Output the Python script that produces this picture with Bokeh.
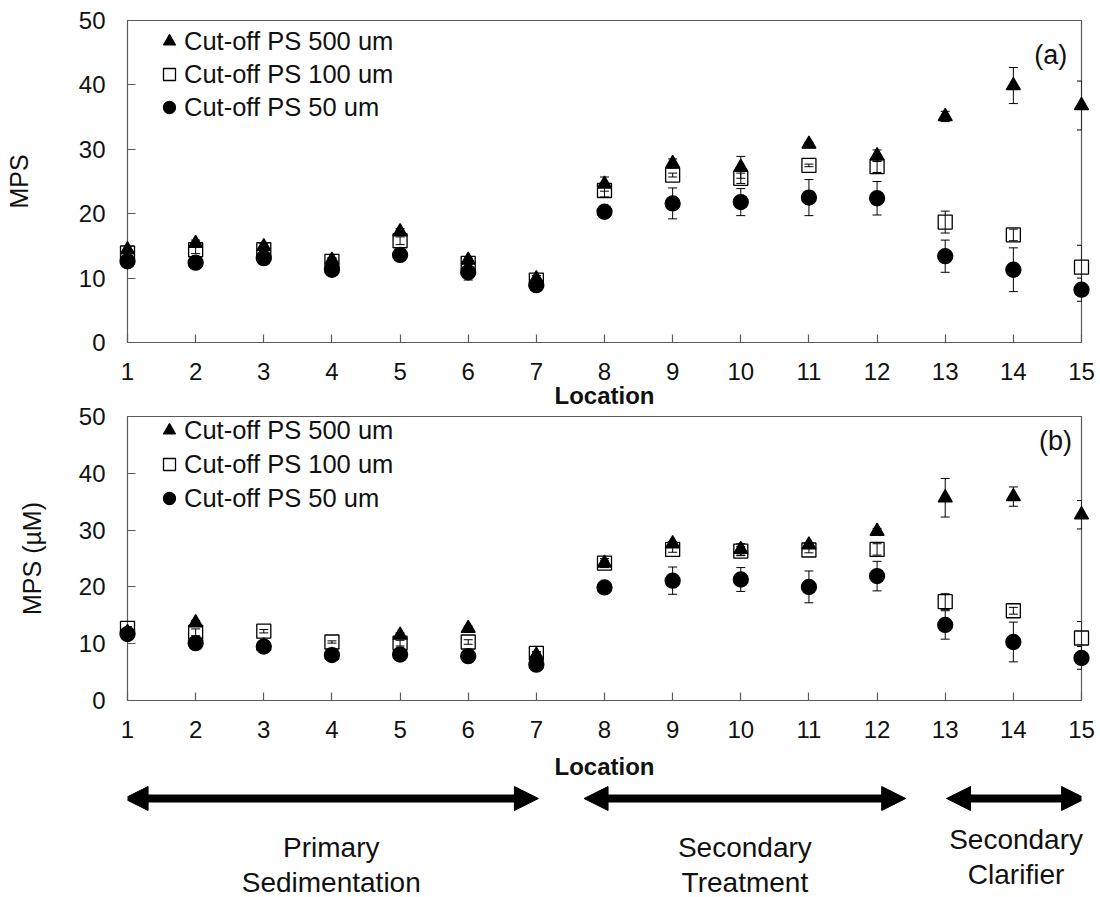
from bokeh.plotting import figure
from bokeh.models import (Range1d, FixedTicker, Whisker, TeeHead, ColumnDataSource, Legend,
                          LegendItem, Label, Arrow, NormalHead)
from bokeh.layouts import column
from bokeh.embed import file_html
from bokeh.resources import INLINE
from bokeh.core.properties import value

# ---------------- data ----------------
locations = list(range(1, 16))
x_ticks = list(range(1, 16))
y_ticks = [0, 10, 20, 30, 40, 50]
series_names = ["Cut-off PS 500 um", "Cut-off PS 100 um", "Cut-off PS 50 um"]

# panel (a)
a_500 = [14.4, 15.4, 14.9, 12.8, 17.2, 12.8, 9.9, 24.6, 27.8, 27.2, 30.8, 29.0, 35.1, 39.9, 36.8]
a_500_err = [0.5, 0.5, 0.5, 0.4, 0.5, 0.5, 0.5, 1.1, 0.7, 1.7, 0.3, 0.9, 0.8, 2.8, 3.8]
a_100 = [13.9, 14.4, 14.4, 12.6, 15.8, 12.3, 9.7, 23.6, 26.0, 25.5, 27.5, 27.3, 18.7, 16.7, 11.7]
a_100_err = [0.5, 0.6, 0.6, 0.4, 0.6, 0.5, 0.4, 1.0, 0.3, 0.8, 0.2, 0.9, 1.7, 0.9, 3.4]
a_50 = [12.6, 12.4, 13.1, 11.3, 13.6, 10.9, 8.9, 20.3, 21.6, 21.8, 22.5, 22.4, 13.4, 11.3, 8.2]
a_50_err = [0.5, 0.4, 1.0, 0.5, 0.6, 1.2, 0.7, 0.5, 2.4, 2.1, 2.8, 2.6, 2.5, 3.4, 1.8]

# panel (b)
b_500 = [12.0, 13.7, 9.6, 8.0, 11.5, 12.7, 8.0, 24.2, 27.6, 26.6, 27.4, 29.8, 35.7, 35.9, 32.7]
b_500_err = [0.3, 0.4, 0.3, 0.3, 0.4, 0.4, 0.5, 0.5, 0.4, 1.0, 0.4, 0.5, 3.4, 1.7, 2.5]
b_100 = [12.7, 12.0, 12.2, 10.3, 10.1, 10.3, 8.3, 24.2, 26.6, 26.3, 26.5, 26.6, 17.4, 15.8, 11.0]
b_100_err = [0.3, 0.6, 0.3, 0.2, 0.5, 0.4, 0.3, 0.8, 0.5, 0.8, 0.5, 1.0, 1.4, 0.6, 2.9]
b_50 = [11.7, 10.1, 9.5, 8.0, 8.1, 7.8, 6.3, 19.9, 21.1, 21.3, 20.0, 21.9, 13.3, 10.3, 7.5]
b_50_err = [0.3, 0.3, 0.4, 0.4, 0.4, 1.0, 1.0, 0.4, 2.4, 2.1, 2.8, 2.6, 2.5, 3.5, 2.0]

# process stages under the x axis
group_line1 = ["Primary", "Secondary", "Secondary"]
group_line2 = ["Sedimentation", "Treatment", "Clarifier"]
group_start = [0.95, 7.7, 13.02]
group_end = [7.03, 12.42, 15.06]

x_title = "Location"

# ---------------- layout ----------------
W = 1100
FL = 127          # frame left border
FR = 19           # frame right border
FONT = "Liberation Sans"
AXIS_GRAY = "#5a5a5a"
TXT = "#111111"

x_min, x_max = min(locations), max(locations)
unit = (W - FL - FR) / (x_max - x_min)   # px per location


def make_panel(height, b_top, frame_h, b_bottom, ylabel, ylabel_standoff, xlabel_mode,
               series, errs, tag, tag_xy, legend_loc, legend_spacing):
    p = figure(width=W, height=height,
               x_range=Range1d(x_min, x_max),
               y_range=Range1d(y_ticks[0], y_ticks[-1]),
               output_backend="svg", toolbar_location=None,
               min_border_left=FL, min_border_right=FR,
               min_border_top=b_top, min_border_bottom=b_bottom,
               background_fill_color="white", border_fill_color="white")
    p.outline_line_color = AXIS_GRAY
    p.outline_line_width = 1.2
    p.grid.visible = False

    p.xaxis.ticker = FixedTicker(ticks=x_ticks)
    p.yaxis.ticker = FixedTicker(ticks=y_ticks)
    for ax in (p.xaxis[0], p.yaxis[0]):
        ax.axis_line_color = None
        ax.major_tick_line_color = AXIS_GRAY
        ax.major_tick_line_width = 1.2
        ax.major_tick_in = 8
        ax.major_tick_out = 0
        ax.minor_tick_line_color = None
        ax.major_label_text_font = FONT
        ax.major_label_text_font_size = "24px"
        ax.major_label_text_color = TXT
        ax.axis_label_text_font = FONT
        ax.axis_label_text_color = TXT
    p.xaxis.major_label_standoff = 20
    if xlabel_mode == "text":
        # x title drawn as an unclipped text glyph just below the tick labels
        px_per_y = frame_h / (y_ticks[-1] - y_ticks[0])
        t = p.text(x=[(x_min + x_max) / 2], y=[y_ticks[0] - 53 / px_per_y], text=[x_title],
                   text_align="center", text_baseline="middle",
                   text_font=value(FONT), text_font_size="24px", text_font_style="bold",
                   text_color=TXT)
        t.level = "overlay"
    else:
        p.xaxis.axis_label = x_title
        p.xaxis.axis_label_text_font_size = "24px"
        p.xaxis.axis_label_text_font_style = "bold"
        p.xaxis.axis_label_standoff = 12
    p.yaxis.axis_label = ylabel
    p.yaxis.axis_label_text_font_size = "25px"
    p.yaxis.axis_label_text_font_style = "normal"
    p.yaxis.major_label_standoff = 22
    p.yaxis.axis_label_standoff = ylabel_standoff

    markers = ["triangle", "square", "circle"]
    sizes = [14, 14, 15]
    fills = ["black", None, "black"]
    renderers = []
    for vals, err, mk, sz, fc in zip(series, errs, markers, sizes, fills):
        src = ColumnDataSource(dict(x=locations, y=vals,
                                    upper=[v + e for v, e in zip(vals, err)],
                                    lower=[v - e for v, e in zip(vals, err)]))
        p.add_layout(Whisker(base="x", upper="upper", lower="lower", source=src,
                             line_color="black", line_width=1,
                             upper_head=TeeHead(size=9, line_color="black", line_width=1),
                             lower_head=TeeHead(size=9, line_color="black", line_width=1)))
        r = p.scatter("x", "y", source=src, marker=mk, size=sz, fill_color=fc,
                      line_color="black", line_width=1.3)
        r.level = "overlay"
        renderers.append(r)

    legend = Legend(items=[LegendItem(label=n, renderers=[r]) for n, r in zip(series_names, renderers)],
                    location=legend_loc, orientation="vertical",
                    glyph_width=30, glyph_height=30, label_standoff=0,
                    spacing=legend_spacing, padding=0, margin=0,
                    border_line_color=None, background_fill_alpha=0,
                    label_text_font=FONT, label_text_font_size="25.5px",
                    label_text_color=TXT, label_height=30)
    p.add_layout(legend)

    p.add_layout(Label(x=tag_xy[0], y=tag_xy[1], text=tag, text_align="right",
                       text_baseline="middle", text_font=FONT, text_font_size="27px",
                       text_color=TXT))
    return p


pa = make_panel(406, 20, 322, 64, "MPS", 43, "text",
                [a_500, a_100, a_50], [a_500_err, a_100_err, a_50_err],
                "(a)", (14.79, 44.6), (27, 220), 3)
pb = make_panel(376, 10, 286, 80, "MPS (µM)", 30, "axis",
                [b_500, b_100, b_50], [b_500_err, b_100_err, b_50_err],
                "(b)", (14.86, 45.6), (27, 187), 4)

# stage arrows and labels
HC = 114
pc = figure(width=W, height=HC, x_range=Range1d(x_min, x_max),
            y_range=Range1d(HC, 0), output_backend="svg", toolbar_location=None,
            min_border_left=FL, min_border_right=FR, min_border_top=0, min_border_bottom=0,
            x_axis_location=None, y_axis_location=None,
            background_fill_color="white", border_fill_color="white")
pc.outline_line_color = None
pc.grid.visible = False

arrow_y = 16
head = 24
head_u = head / unit
n = len(group_start)
# shafts (stop half-way inside the heads so nothing pokes past the tips)
bsrc = ColumnDataSource(dict(x0=[s + head_u / 2 for s in group_start],
                             x1=[e - head_u / 2 for e in group_end], y=[arrow_y] * n))
pc.add_layout(Arrow(x_start="x0", y_start="y", x_end="x1", y_end="y", source=bsrc,
                    line_width=8, line_color="black", line_cap="butt", start=None, end=None))
# heads
hsrc = ColumnDataSource(dict(x0=group_start, x1=group_end, y=[arrow_y] * n))
pc.add_layout(Arrow(x_start="x1", y_start="y", x_end="x0", y_end="y", source=hsrc,
                    line_alpha=0, line_width=1,
                    start=NormalHead(size=head, fill_color="black", line_color="black", line_width=1),
                    end=NormalHead(size=head, fill_color="black", line_color="black", line_width=1)))

mids = [(s + e) / 2 for s, e in zip(group_start, group_end)]
shift = [0, 0, -8]
tsrc = ColumnDataSource(dict(x=mids, l1=group_line1, l2=group_line2,
                             y1=[65 + s for s in shift], y2=[100 + s for s in shift]))
for col, ycol in (("l1", "y1"), ("l2", "y2")):
    t = pc.text(x="x", y=ycol, text=col, source=tsrc,
                text_align="center", text_baseline="alphabetic",
                text_font=value(FONT), text_font_size="28px", text_color=TXT)
    t.level = "overlay"

layout = column(pa, pb, pc, spacing=0)
open("out.html", "w").write(file_html(layout, INLINE))
